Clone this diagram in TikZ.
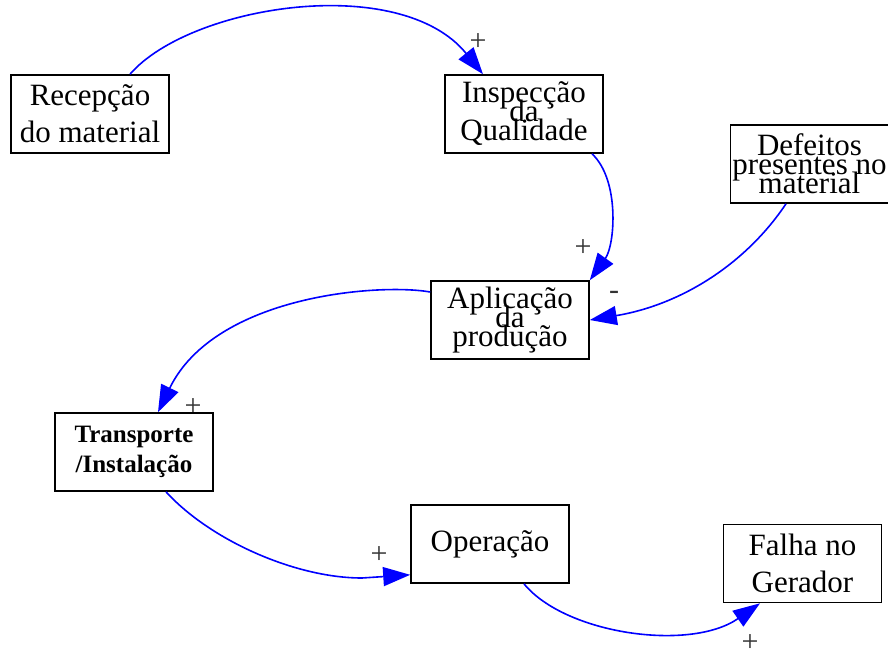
\documentclass[tikz,border=0pt]{standalone}
\usepackage{fontspec}
\setmainfont{Liberation Serif}
\usetikzlibrary{arrows.meta}
\newcommand\tightlines{\fontsize{31}{19}\selectfont\lineskiplimit=-100pt\relax}
\tikzset{
  box/.style={draw, line width=1.6pt, minimum width=158pt, minimum height=78pt,
    inner sep=0pt, align=center, font=\fontsize{31}{37}\selectfont},
  tight/.style={font=\tightlines},
  boldbox/.style={font=\fontsize{25}{30}\selectfont\bfseries},
  link/.style={draw=blue, line width=1.6pt, -{Triangle[length=27pt,width=19pt,fill=blue]}},
  sign/.style={text=black!80, inner sep=0pt, font=\fontsize{30}{30}\selectfont}
}
\begin{document}
\begin{tikzpicture}[x=1pt,y=-1pt]
\useasboundingbox (0,0) rectangle (888,654);

% variables of the causal loop
\node[box] (rec) at (90,114) {Recepção\\do material};
\node[box,tight] (insp) at (524,114) {Inspecção\\da\\Qualidade};
\node[box,tight] (def) at (809.5,164) {Defeitos\\presentes no\\material};
\node[box,tight] (apl) at (510,320) {Aplicação\\da\\produção};
\node[box,boldbox] (tra) at (134,452) {Transporte\\/Instalação};
\node[box] (op) at (490,544) {Operação};
\node[box] (fal) at (802.5,563.5) {Falha no\\Gerador};

% causal links
\draw[link] ([xshift=40pt]rec.north) .. controls (190,5) and (400,-28) .. ([xshift=-41pt]insp.north);
\draw[link] ([xshift=68pt]insp.south) .. controls (620,180) and (615,245) .. (apl.north east);
\draw[link] ([xshift=-23.5pt]def.south) .. controls (745,265) and (680,305) .. (apl.east);
\draw[link] ([yshift=28pt]apl.west) .. controls (380,283) and (215,295) .. ([xshift=24pt]tra.north);
\coordinate (k5) at (362,578);
\draw[link] ([xshift=32pt]tra.south) .. controls (210,540) and (295,578) .. (k5) -- ([yshift=9pt]op.south west);
\draw[link] ([xshift=34pt]op.south) .. controls (565,634) and (690,652) .. ([xshift=-42.5pt]fal.south);

% polarity signs
\node[sign] (s1) at (478,42) {+};
\node[sign] (s2) at (583,248) {+};
\node[sign] (s3) at (614,295) {-};
\node[sign] (s4) at (193,407) {+};
\node[sign] (s5) at (379,555) {+};
\node[sign] (s6) at (750,643) {+};
\end{tikzpicture}
\end{document}
